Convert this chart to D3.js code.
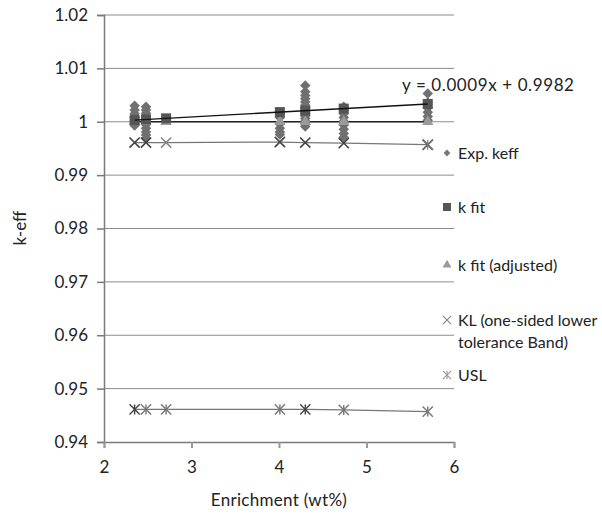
<!DOCTYPE html>
<html>
<head>
<meta charset="utf-8">
<script src="https://cdn.jsdelivr.net/npm/d3@7"></script>
<style>
  body { margin: 0; background: #fff; }
  svg text { font-family: Lato, "Open Sans", sans-serif; fill: #222; }
</style>
</head>
<body>
<svg id="drawing_region" width="602" height="520"></svg>
<script>
// enrichment groups (wt%)
const enrich = [2.35, 2.48, 2.71, 4.01, 4.30, 4.74, 5.70];

// measured k-eff for each enrichment group
const expKeff = [
    [1.0030, 1.0022, 1.0015, 1.0008, 1.0003, 0.9998, 0.9993],
    [1.0028, 1.0022, 1.0016, 1.0010, 1.0005, 1.0000, 0.9995, 0.9988, 0.9981, 0.9975, 0.9969],
    [],
    [1.0008, 0.9996, 0.9988, 0.9981, 0.9976],
    [1.0068, 1.0056, 1.0049, 1.0043, 1.0037, 1.0031, 1.0026, 1.0021, 1.0016, 1.0011, 1.0006, 1.0001, 0.9996, 0.9991],
    [1.0028, 1.0022, 1.0015, 1.0008, 1.0001, 0.9994, 0.9986, 0.9978, 0.9971],
    [1.0053, 1.0036, 1.0026, 1.0018, 1.0010, 1.0003]
];

// linear fit k = 0.0009 x + 0.9982
const slope = 0.0009, intercept = 0.9982;
const kAdjusted = [1.0000, 1.0000, 1.0000, 1.0000, 1.0000, 1.0000, 1.0000];
const kLower = [0.9961, 0.9961, 0.9961, 0.9962, 0.9961, 0.9960, 0.9957];
const usl = [0.9461, 0.9461, 0.9461, 0.9461, 0.9461, 0.9460, 0.9457];

const yTicks = [0.94, 0.95, 0.96, 0.97, 0.98, 0.99, 1, 1.01, 1.02];
const xTicks = [2, 3, 4, 5, 6];

const svg = d3.select('#drawing_region');
const x = d3.scaleLinear().domain([2, 6]).range([104, 454]);
const y = d3.scaleLinear().domain([0.94, 1.02]).range([442, 15]);

// grid
svg.append('g').selectAll('line').data(yTicks.slice(1)).join('line')
    .attr('x1', 104).attr('x2', 454)
    .attr('y1', d => y(d)).attr('y2', d => y(d))
    .attr('stroke', '#8c8c8c').attr('stroke-width', 1);

// axes
const yAxis = svg.append('g').attr('transform', 'translate(104,0)')
    .call(d3.axisLeft(y).tickValues(yTicks).tickSize(7).tickPadding(9)
        .tickFormat(d => d === 1 ? '1' : d3.format('.2f')(d)));
const xAxis = svg.append('g').attr('transform', 'translate(0,442)')
    .call(d3.axisBottom(x).tickValues(xTicks).tickSize(6).tickPadding(13).tickFormat(d3.format('d')));
[yAxis, xAxis].forEach(g => {
    g.select('.domain').attr('stroke', '#7a7a7a').attr('stroke-width', 1.5);
    g.selectAll('.tick line').attr('stroke', '#7a7a7a').attr('stroke-width', 1.5);
    g.selectAll('text').style('font-size', '17px').attr('fill', '#222');
});
xAxis.selectAll('.tick line').attr('stroke', '#999').attr('stroke-width', 2);

// axis titles
svg.append('text').attr('x', 279).attr('y', 506).attr('text-anchor', 'middle')
    .style('font-size', '17px').style('letter-spacing', '0.3px').text('Enrichment (wt%)');
svg.append('text').attr('transform', 'translate(26,228) rotate(-90)').attr('text-anchor', 'middle')
    .style('font-size', '17px').text('k-eff');

const line = d3.line().x(d => x(d[0])).y(d => y(d[1]));

// series lines
svg.append('path').datum(d3.zip(enrich, usl)).attr('d', line)
    .attr('fill', 'none').attr('stroke', '#777').attr('stroke-width', 1.3);
svg.append('path').datum(d3.zip(enrich, kLower)).attr('d', line)
    .attr('fill', 'none').attr('stroke', '#777').attr('stroke-width', 1.3);
svg.append('path').datum(d3.zip(enrich, kAdjusted)).attr('d', line)
    .attr('fill', 'none').attr('stroke', '#222').attr('stroke-width', 1.3);

// measured points
const expPts = enrich.flatMap((e, i) => expKeff[i].map(v => [e, v]));
const diamond = d3.symbol().type(d3.symbolDiamond2).size(70);
svg.append('g').selectAll('path').data(expPts).join('path')
    .attr('d', diamond)
    .attr('transform', d => `translate(${x(d[0])},${y(d[1])})`)
    .attr('fill', '#707070');

// adjusted fit
svg.append('g').selectAll('path').data(d3.zip(enrich, kAdjusted)).join('path')
    .attr('d', d3.symbol().type(d3.symbolTriangle).size(55))
    .attr('transform', d => `translate(${x(d[0])},${y(d[1])})`)
    .attr('fill', '#9a9a9a');

// fit squares and trendline
const fit = enrich.map(e => [e, slope * e + intercept]);
svg.append('g').selectAll('rect').data(fit).join('rect')
    .attr('x', d => x(d[0]) - 5).attr('y', d => y(d[1]) - 5)
    .attr('width', 10).attr('height', 10).attr('fill', '#555');
svg.append('path').datum([fit[0], fit[fit.length - 1]]).attr('d', line)
    .attr('fill', 'none').attr('stroke', '#111').attr('stroke-width', 1.3);

// lower tolerance band (x) and USL (asterisk)
const cross = d3.symbol().type(d3.symbolX).size(70);
svg.append('g').selectAll('path').data(d3.zip(enrich, kLower)).join('path')
    .attr('d', cross)
    .attr('transform', d => `translate(${x(d[0])},${y(d[1])})`)
    .attr('fill', 'none').attr('stroke', (d, i) => i === 2 ? '#888' : '#444').attr('stroke-width', 1.6);
const star = g => {
    g.append('path').attr('d', cross).attr('fill', 'none');
    g.append('line').attr('x1', 0).attr('x2', 0).attr('y1', -5).attr('y2', 5);
};
svg.append('g').selectAll('g').data(d3.zip(enrich, usl)).join('g')
    .attr('transform', d => `translate(${x(d[0])},${y(d[1])})`)
    .attr('stroke', (d, i) => (i === 0 || i === 4) ? '#444' : '#777').attr('stroke-width', 1.4)
    .call(star);
svg.append('g').attr('transform', `translate(${x(5.7)},${y(kLower[6])})`)
    .attr('stroke', '#777').attr('stroke-width', 1.2).call(star);

// equation label
svg.append('text').attr('x', 402).attr('y', 91).style('font-size', '17px').style('letter-spacing', '0.6px')
    .text('y = 0.0009x + 0.9982');

// legend
const leg = svg.append('g').style('font-size', '16px');
const items = [
    { y: 153, label: ['Exp. keff'], draw: g => g.append('path').attr('d', d3.symbol().type(d3.symbolDiamond2).size(30)).attr('fill', '#777') },
    { y: 207, label: ['k fit'], draw: g => g.append('rect').attr('x', -4).attr('y', -4).attr('width', 8).attr('height', 8).attr('fill', '#555') },
    { y: 265, label: ['k fit (adjusted)'], draw: g => g.append('path').attr('d', d3.symbol().type(d3.symbolTriangle).size(35)).attr('fill', '#9a9a9a') },
    { y: 320, label: ['KL (one-sided lower', 'tolerance Band)'], draw: g => g.append('path').attr('d', d3.symbol().type(d3.symbolX).size(45)).attr('fill', 'none').attr('stroke', '#888').attr('stroke-width', 1.2) },
    { y: 375, label: ['USL'], draw: g => { g.attr('stroke', '#999').attr('stroke-width', 1.2); g.append('path').attr('d', d3.symbol().type(d3.symbolX).size(45)).attr('fill', 'none'); g.append('line').attr('y1', -4).attr('y2', 4); } }
];
items.forEach(it => {
    const m = leg.append('g').attr('transform', `translate(447,${it.y})`);
    it.draw(m);
    const t = leg.append('text').attr('x', 458).attr('y', it.y + 6);
    it.label.forEach((s, i) => t.append('tspan').attr('x', 458).attr('dy', i ? 22 : 0).text(s));
});
</script>
</body>
</html>
